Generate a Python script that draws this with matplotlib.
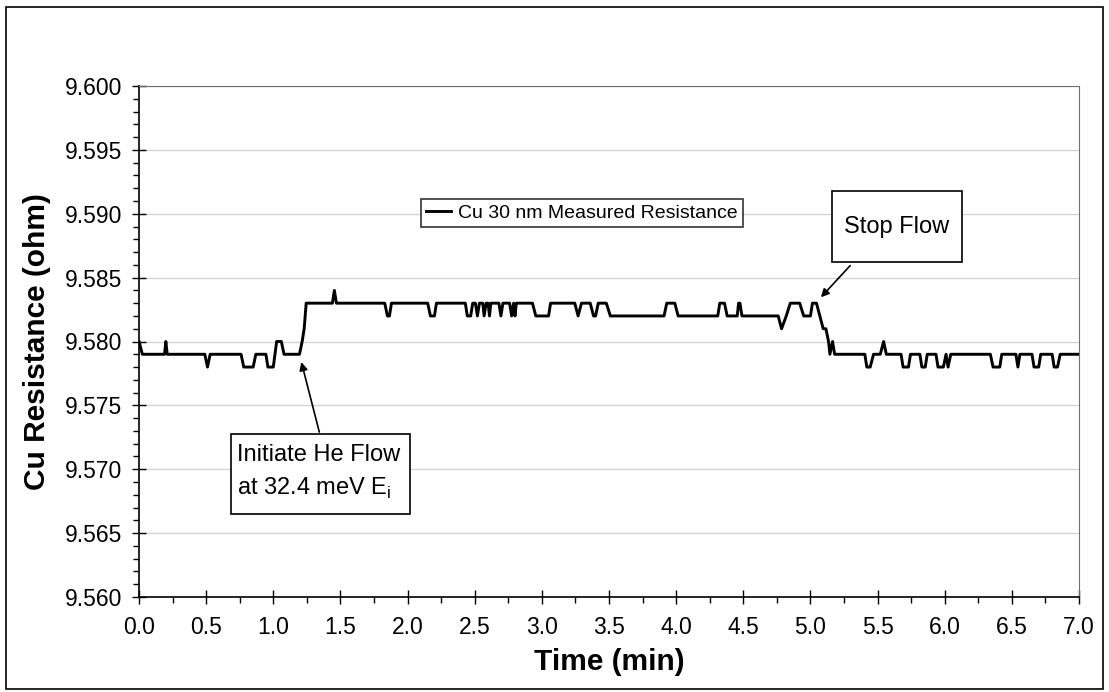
import numpy as np
import matplotlib.pyplot as plt
from matplotlib.patches import Rectangle
from matplotlib.ticker import MultipleLocator, FormatStrFormatter

plt.rcParams['font.family'] = ['Liberation Sans', 'DejaVu Sans']

# vertices of the measured trace (min, ohm)
time_min = [0.000, 0.025, 0.190, 0.200, 0.210, 0.490, 0.510, 0.530, 0.760, 0.780,
            0.850, 0.870, 0.945, 0.960, 1.000, 1.025, 1.060, 1.080, 1.195, 1.215,
            1.230, 1.245, 1.440, 1.455, 1.470, 1.830, 1.850, 1.865, 1.880, 2.150,
            2.170, 2.200, 2.215, 2.430, 2.445, 2.470, 2.485, 2.505, 2.520, 2.535,
            2.560, 2.570, 2.585, 2.600, 2.610, 2.620, 2.680, 2.695, 2.710, 2.760,
            2.775, 2.790, 2.800, 2.810, 2.930, 2.955, 3.050, 3.065, 3.245, 3.270,
            3.295, 3.360, 3.385, 3.400, 3.420, 3.480, 3.510, 3.910, 3.930, 3.990,
            4.015, 4.310, 4.325, 4.360, 4.380, 4.455, 4.465, 4.475, 4.490, 4.760,
            4.785, 4.820, 4.850, 4.920, 4.950, 5.000, 5.015, 5.045, 5.070, 5.095,
            5.115, 5.135, 5.145, 5.165, 5.180, 5.405, 5.420, 5.445, 5.470, 5.520,
            5.545, 5.565, 5.675, 5.690, 5.730, 5.745, 5.815, 5.830, 5.855, 5.870,
            5.935, 5.950, 5.990, 6.010, 6.025, 6.045, 6.340, 6.360, 6.410, 6.425,
            6.530, 6.545, 6.560, 6.650, 6.665, 6.700, 6.715, 6.800, 6.815, 6.840,
            6.860, 7.000]
resistance = [9.580, 9.579, 9.579, 9.580, 9.579, 9.579, 9.578, 9.579, 9.579, 9.578,
              9.578, 9.579, 9.579, 9.578, 9.578, 9.580, 9.580, 9.579, 9.579, 9.580,
              9.581, 9.583, 9.583, 9.584, 9.583, 9.583, 9.582, 9.582, 9.583, 9.583,
              9.582, 9.582, 9.583, 9.583, 9.582, 9.582, 9.583, 9.583, 9.582, 9.583,
              9.583, 9.582, 9.583, 9.583, 9.582, 9.583, 9.583, 9.582, 9.583, 9.583,
              9.582, 9.583, 9.582, 9.583, 9.583, 9.582, 9.582, 9.583, 9.583, 9.582,
              9.583, 9.583, 9.582, 9.582, 9.583, 9.583, 9.582, 9.582, 9.583, 9.583,
              9.582, 9.582, 9.583, 9.583, 9.582, 9.582, 9.583, 9.583, 9.582, 9.582,
              9.581, 9.582, 9.583, 9.583, 9.582, 9.582, 9.583, 9.583, 9.582, 9.581,
              9.581, 9.580, 9.579, 9.580, 9.579, 9.579, 9.578, 9.578, 9.579, 9.579,
              9.580, 9.579, 9.579, 9.578, 9.578, 9.579, 9.579, 9.578, 9.578, 9.579,
              9.579, 9.578, 9.578, 9.579, 9.578, 9.579, 9.579, 9.578, 9.578, 9.579,
              9.579, 9.578, 9.579, 9.579, 9.578, 9.578, 9.579, 9.579, 9.578, 9.578,
              9.579, 9.579]

W, H = 1109, 692


def fx(px):
    return px / W


def fy(py):
    return 1 - py / H


fig = plt.figure(figsize=(W / 100, H / 100), dpi=100)
fig.patches.append(Rectangle((fx(6), fy(689)), fx(1103) - fx(6), fy(7) - fy(689),
                             transform=fig.transFigure, fill=False, ec='black', lw=1.2))

ax = fig.add_axes([fx(139), fy(597), fx(1079) - fx(139), fy(86) - fy(597)])
ax.plot(time_min, resistance, color='black', lw=2.1, label='Cu 30 nm Measured Resistance')

ax.set_xlim(0, 7)
ax.set_ylim(9.560, 9.600)
ax.xaxis.set_major_locator(MultipleLocator(0.5))
ax.xaxis.set_minor_locator(MultipleLocator(0.25))
ax.yaxis.set_major_locator(MultipleLocator(0.005))
ax.yaxis.set_minor_locator(MultipleLocator(0.001))
ax.xaxis.set_major_formatter(FormatStrFormatter('%.1f'))
ax.yaxis.set_major_formatter(FormatStrFormatter('%.3f'))
ax.tick_params(which='major', direction='inout', length=10, width=1, labelsize=16.5, pad=7)
ax.tick_params(which='minor', direction='out', length=4, width=1)
ax.tick_params(axis='x', which='major', pad=9)
ax.grid(axis='y', which='major', color='#d4d4d4', lw=1)
ax.set_axisbelow(True)
for s in ['top', 'right']:
    ax.spines[s].set_color('#707070')
for s in ['left', 'bottom']:
    ax.spines[s].set_linewidth(1.2)

ax.set_xlabel('Time (min)', fontsize=21.5, fontweight='bold', labelpad=6)
ax.set_ylabel('Cu Resistance (ohm)', fontsize=21.5, fontweight='bold', labelpad=10)

leg = ax.legend(loc='center', bbox_to_anchor=(fx(582), fy(213)), bbox_transform=fig.transFigure,
                fontsize=14, frameon=True, fancybox=False, edgecolor='black',
                handlelength=1.3, handletextpad=0.35, borderpad=0.25, borderaxespad=0)
leg.get_frame().set_linewidth(1.2)

# annotation boxes
fig.patches.append(Rectangle((fx(832), fy(262)), fx(962) - fx(832), fy(191) - fy(262),
                             transform=fig.transFigure, fill=True, fc='white', ec='black', lw=1.2, zorder=5))
fig.text(fx(897), fy(227), 'Stop Flow', ha='center', va='center', fontsize=17, zorder=6)
fig.patches.append(Rectangle((fx(231), fy(514)), fx(410) - fx(231), fy(434) - fy(514),
                             transform=fig.transFigure, fill=True, fc='white', ec='black', lw=1.2, zorder=5))
fig.text(fx(237), fy(461), 'Initiate He Flow', ha='left', va='baseline', fontsize=17, zorder=6)
fig.text(fx(237), fy(495), 'at 32.4 meV E$_\\mathregular{i}$', ha='left', va='baseline', fontsize=17, zorder=6)

ax.annotate('', xy=(5.064, 9.5833), xytext=(5.31, 9.5861),
            arrowprops=dict(arrowstyle='-|>', color='black', lw=1.2, mutation_scale=12))
ax.annotate('', xy=(1.204, 9.5786), xytext=(1.348, 9.5727),
            arrowprops=dict(arrowstyle='-|>', color='black', lw=1.2, mutation_scale=12))

fig.savefig('out.png', dpi=100)
